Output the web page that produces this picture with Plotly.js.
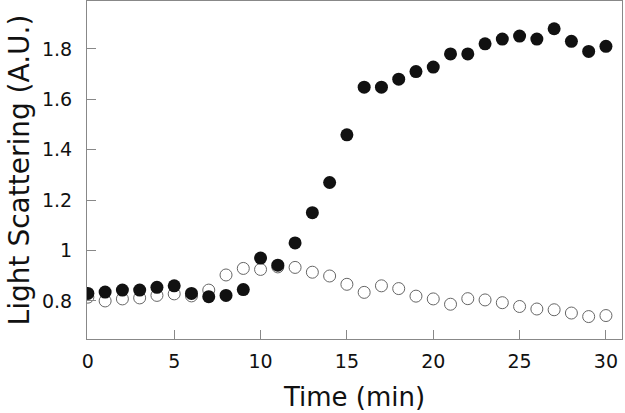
<!DOCTYPE html>
<html>
<head>
<meta charset="utf-8">
<script src="https://cdn.plot.ly/plotly-3.0.1.min.js"></script>
<style>html,body{margin:0;padding:0;background:#fff;}#chart{width:625px;height:413px;}</style>
</head>
<body>
<div id="chart"></div>
<script>
const time = [0,1,2,3,4,5,6,7,8,9,10,11,12,13,14,15,16,17,18,19,20,21,22,23,24,25,26,27,28,29,30];
const filledSeries = [0.83,0.835,0.843,0.843,0.854,0.86,0.83,0.817,0.822,0.845,0.97,0.942,1.03,1.15,1.27,1.459,1.648,1.648,1.68,1.71,1.728,1.78,1.78,1.82,1.839,1.851,1.839,1.88,1.83,1.79,1.81];
const openSeries = [0.815,0.80,0.808,0.812,0.822,0.828,0.82,0.843,0.903,0.929,0.925,0.935,0.933,0.914,0.899,0.866,0.834,0.86,0.849,0.819,0.808,0.787,0.809,0.804,0.793,0.778,0.768,0.765,0.752,0.738,0.742];
const xTickVals = [0,5,10,15,20,25,30];
const yTickVals = [0.8,1,1.2,1.4,1.6,1.8];
const yTickText = ['0.8','1','1.2','1.4','1.6','1.8'];

const traces = [
  {x: time, y: openSeries, type: 'scatter', mode: 'markers',
   marker: {symbol: 'circle-open', size: 12, color: '#666', line: {width: 1, color: '#666'}}},
  {x: time, y: filledSeries, type: 'scatter', mode: 'markers',
   marker: {symbol: 'circle', size: 13, color: '#111'}}
];
const fam = 'DejaVu Sans, Verdana, sans-serif';
const layout = {
  width: 625, height: 413,
  margin: {l: 87, r: 3, t: 1, b: 74},
  paper_bgcolor: '#fff', plot_bgcolor: '#fff',
  showlegend: false,
  font: {family: fam, color: '#111'},
  xaxis: {
    range: [-0.05, 30.93], tickvals: xTickVals, ticks: 'inside', ticklen: 9, tickcolor: '#888',
    showline: true, linecolor: '#888', linewidth: 1, mirror: true, showgrid: false, zeroline: false,
    tickfont: {family: fam, size: 19, color: '#111'}, ticklabelstandoff: 5,
    title: {text: 'Time (min)', font: {family: fam, size: 26, color: '#111'}, standoff: 17}
  },
  yaxis: {
    range: [0.649, 1.99], tickvals: yTickVals, ticktext: yTickText, ticks: 'inside', ticklen: 9, tickcolor: '#888',
    showline: true, linecolor: '#888', linewidth: 1, mirror: true, showgrid: false, zeroline: false,
    tickfont: {family: fam, size: 19, color: '#111'}, ticklabelstandoff: 10,
    title: {text: 'Light Scattering (A.U.)', font: {family: fam, size: 28, color: '#111'}, standoff: 4}
  }
};
Plotly.newPlot('chart', traces, layout, {displayModeBar: false, staticPlot: true});
</script>
</body>
</html>
